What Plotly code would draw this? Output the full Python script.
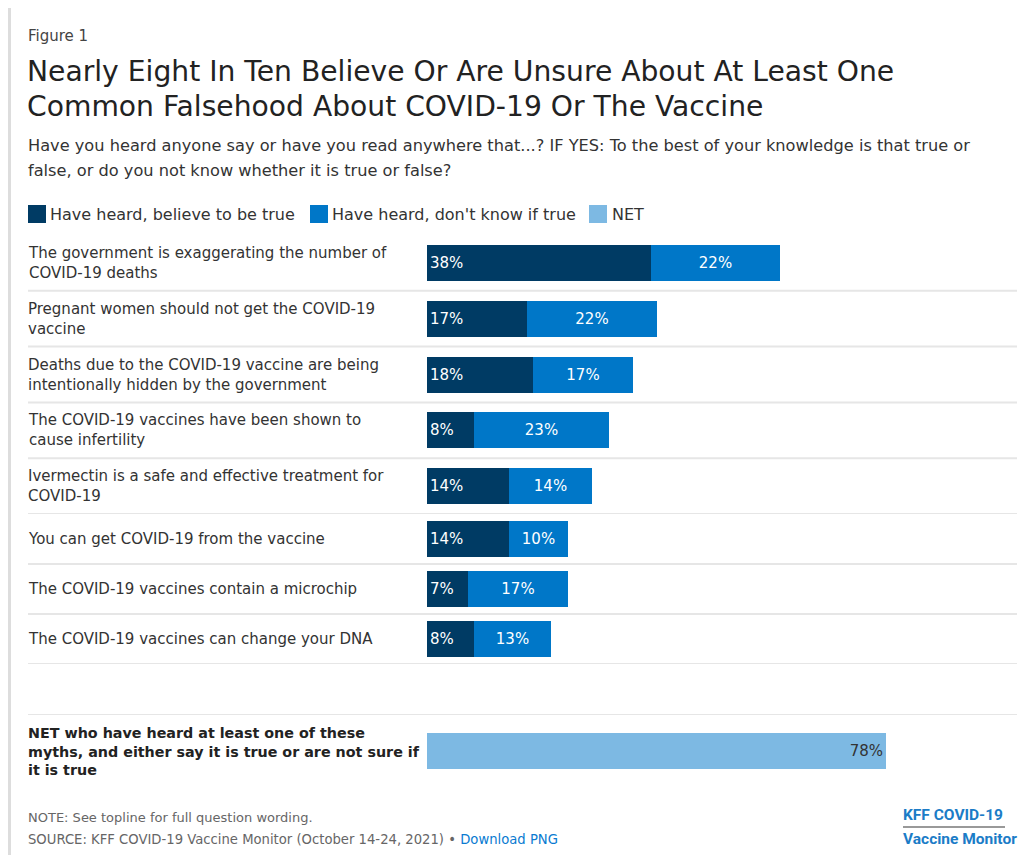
import plotly.graph_objects as go

# ---------------- data ----------------
categories = [
    "The government is exaggerating the number of<br>COVID-19 deaths",
    "Pregnant women should not get the COVID-19<br>vaccine",
    "Deaths due to the COVID-19 vaccine are being<br>intentionally hidden by the government",
    "The COVID-19 vaccines have been shown to<br>cause infertility",
    "Ivermectin is a safe and effective treatment for<br>COVID-19",
    "You can get COVID-19 from the vaccine",
    "The COVID-19 vaccines contain a microchip",
    "The COVID-19 vaccines can change your DNA",
]
believe_true = [38, 17, 18, 8, 14, 14, 7, 8]
dont_know = [22, 22, 17, 23, 14, 10, 17, 13]

net_category = ["NET who have heard at least one of these<br>myths, and either say it is true or are not sure if<br>it is true"]
net_value = [78]

series_names = ["Have heard, believe to be true", "Have heard, don't know if true", "NET"]
colors = ["#003b64", "#0077c8", "#7db9e3"]

title_lines = ["Nearly Eight In Ten Believe Or Are Unsure About At Least One",
               "Common Falsehood About COVID-19 Or The Vaccine"]
subtitle_lines = ["Have you heard anyone say or have you read anywhere that...? IF YES: To the best of your knowledge is that true or",
                  "false, or do you not know whether it is true or false?"]

# ---------------- layout helpers ----------------
OFF = 8                       # default page margin of the html body
W, H = 1029 - 2 * OFF, 863 - 2 * OFF
FONT = "DejaVu Sans, Liberation Sans, Arial, sans-serif"
X = lambda p: (p - OFF) / W
Y = lambda p: 1 - (p - OFF) / H
LEFT = 26                     # left edge of text (annotation padding included)

two_line = categories[:5]
one_line = categories[5:]

fig = go.Figure()

def add_group(cats, v1, v2, yaxis, width):
    fig.add_trace(go.Bar(
        y=cats, x=v1, orientation="h", name=series_names[0], yaxis=yaxis,
        marker=dict(color=colors[0], line=dict(width=0)), width=width,
        texttemplate="%{x}%", textposition="inside", insidetextanchor="start",
        textfont=dict(color="white", size=15, family=FONT), hoverinfo="skip",
        showlegend=False))
    fig.add_trace(go.Bar(
        y=cats, x=v2, orientation="h", name=series_names[1], yaxis=yaxis,
        marker=dict(color=colors[1], line=dict(width=0)), width=width,
        texttemplate="%{x}%", textposition="inside", insidetextanchor="middle",
        textfont=dict(color="white", size=15, family=FONT), hoverinfo="skip",
        showlegend=False))

add_group(two_line, believe_true[:5], dont_know[:5], "y", 36 / 55.8)
add_group(one_line, believe_true[5:], dont_know[5:], "y2", 36 / 50)

fig.add_trace(go.Bar(
    y=net_category, x=net_value, orientation="h", name=series_names[2], yaxis="y3",
    marker=dict(color=colors[2], line=dict(width=0)), width=36 / 74,
    texttemplate="%{x}%", textposition="inside", insidetextanchor="end",
    textfont=dict(color="#333333", size=15, family=FONT), hoverinfo="skip",
    showlegend=False))

annotations = []
shapes = []

# row labels
for yref, cats in (("y", two_line), ("y2", one_line)):
    for c in cats:
        annotations.append(dict(xref="paper", yref=yref, x=X(LEFT), y=c, text=c,
                                xanchor="left", yanchor="middle", align="left", showarrow=False,
                                font=dict(size=15, color="#333333", family=FONT)))
annotations.append(dict(xref="paper", yref="y3", x=X(LEFT), y=net_category[0],
                        text="<b>" + net_category[0] + "</b>", xanchor="left", yanchor="middle",
                        align="left", showarrow=False,
                        font=dict(size=14.3, color="#222222", family=FONT)))

# separators
for i in range(len(two_line)):
    shapes.append(dict(type="line", xref="paper", yref="y", x0=X(28), x1=X(1017),
                       y0=i + 0.5, y1=i + 0.5, line=dict(color="#e6e6e6", width=2)))
for i in range(len(one_line)):
    shapes.append(dict(type="line", xref="paper", yref="y2", x0=X(28), x1=X(1017),
                       y0=i + 0.5, y1=i + 0.5, line=dict(color="#e6e6e6", width=2)))
shapes.append(dict(type="line", xref="paper", yref="y3", x0=X(28), x1=X(1017),
                   y0=-0.5, y1=-0.5, line=dict(color="#e6e6e6", width=2)))

# outer frame
shapes.append(dict(type="rect", xref="paper", yref="paper", x0=X(9.5), x1=X(1060),
                   y0=Y(900), y1=Y(5.5), line=dict(color="#dddddd", width=3)))

# header texts
annotations.append(dict(xref="paper", yref="paper", x=X(LEFT), y=Y(36), text="Figure 1",
                        xanchor="left", yanchor="middle", showarrow=False,
                        font=dict(size=15, color="#444444", family=FONT)))
for t, yy in zip(title_lines, (72, 106)):
    annotations.append(dict(xref="paper", yref="paper", x=X(LEFT - 1), y=Y(yy), text=t,
                            xanchor="left", yanchor="middle", showarrow=False,
                            font=dict(size=28.2, color="#222222", family=FONT)))
for t, yy in zip(subtitle_lines, (146, 170)):
    annotations.append(dict(xref="paper", yref="paper", x=X(LEFT), y=Y(yy), text=t,
                            xanchor="left", yanchor="middle", showarrow=False,
                            font=dict(size=16.2, color="#333333", family=FONT)))

# legend (manual)
for name, col, sx, tx in zip(series_names, colors, (28, 310, 589), (48, 330, 610)):
    shapes.append(dict(type="rect", xref="paper", yref="paper", x0=X(sx), x1=X(sx + 18),
                       y0=Y(223), y1=Y(205), fillcolor=col, line=dict(width=0)))
    annotations.append(dict(xref="paper", yref="paper", x=X(tx), y=Y(214), text=name,
                            xanchor="left", yanchor="middle", showarrow=False,
                            font=dict(size=16, color="#333333", family=FONT)))

# footer
annotations.append(dict(xref="paper", yref="paper", x=X(LEFT), y=Y(817),
                        text="NOTE: See topline for full question wording.",
                        xanchor="left", yanchor="middle", showarrow=False,
                        font=dict(size=13, color="#666666", family=FONT)))
annotations.append(dict(xref="paper", yref="paper", x=X(LEFT), y=Y(839),
                        text="SOURCE: KFF COVID-19 Vaccine Monitor (October 14-24, 2021) \u2022 "
                             "<span style='color:#0a7bd1'>Download PNG</span>",
                        xanchor="left", yanchor="middle", showarrow=False,
                        font=dict(size=13.2, color="#666666", family=FONT)))
# logo
LOGO_FONT = "Roboto, Liberation Sans, Arial, sans-serif"
annotations.append(dict(xref="paper", yref="paper", x=X(901), y=Y(815),
                        text="<b>KFF COVID-19</b>", xanchor="left", yanchor="middle",
                        showarrow=False, font=dict(size=15.5, color="#1b7cc7", family=LOGO_FONT)))
annotations.append(dict(xref="paper", yref="paper", x=X(901), y=Y(839),
                        text="<b>Vaccine Monitor</b>", xanchor="left", yanchor="middle",
                        showarrow=False, font=dict(size=15.5, color="#1b7cc7", family=LOGO_FONT)))
shapes.append(dict(type="line", xref="paper", yref="paper", x0=X(903), x1=X(1005),
                   y0=Y(827), y1=Y(827), line=dict(color="#999999", width=2)))

fig.update_layout(
    width=W, height=H, margin=dict(l=0, r=0, t=0, b=0),
    paper_bgcolor="white", plot_bgcolor="white",
    barmode="stack", bargap=0, showlegend=False,
    font=dict(family=FONT, color="#333333"),
    xaxis=dict(domain=[X(427), X(1015.5)], range=[0, 100], visible=False, fixedrange=True),
    yaxis=dict(domain=[Y(514), Y(235)], range=[len(two_line) - 0.5, -0.5], visible=False,
               type="category", anchor="x", fixedrange=True),
    yaxis2=dict(domain=[Y(664), Y(514)], range=[len(one_line) - 0.5, -0.5], visible=False,
                type="category", anchor="x", fixedrange=True),
    yaxis3=dict(domain=[Y(788), Y(714)], range=[0.5, -0.5], visible=False,
                type="category", anchor="x", fixedrange=True),
    uniformtext=dict(minsize=15, mode="show"),
    annotations=annotations, shapes=shapes,
)

fig.write_html("out.html", config=dict(displayModeBar=False))
